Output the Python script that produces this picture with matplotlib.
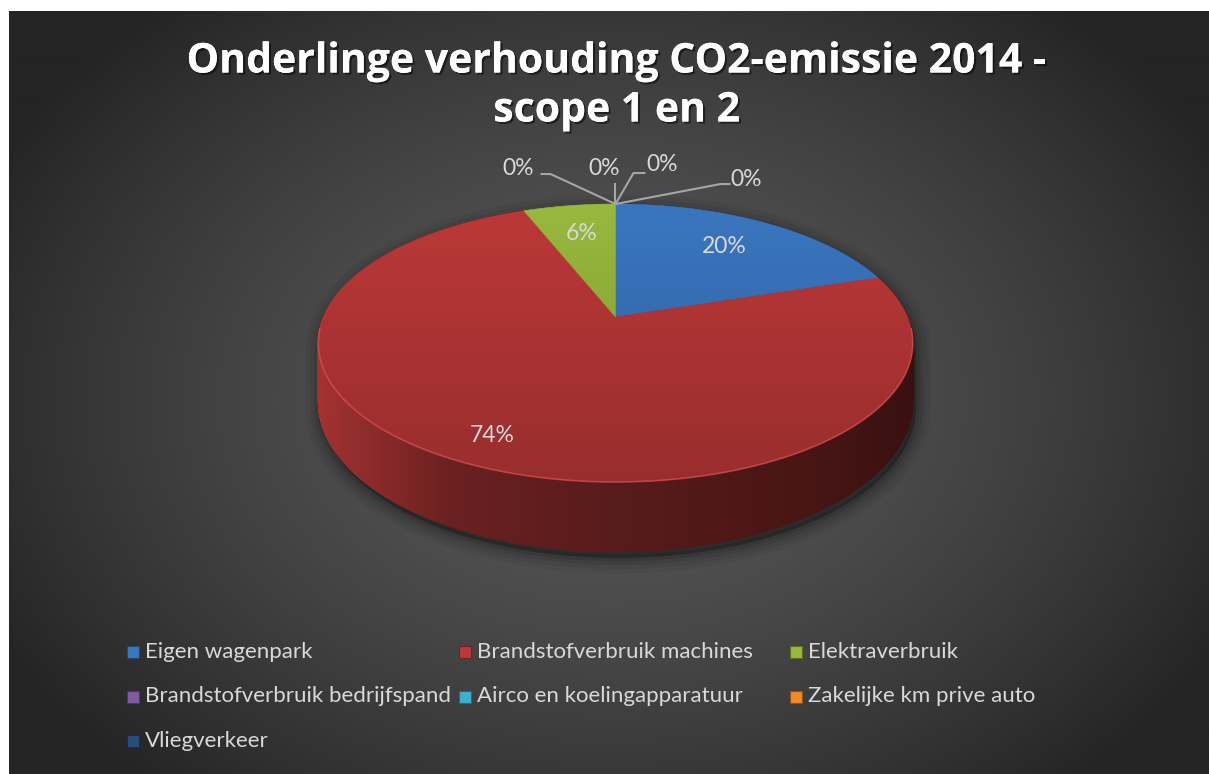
import numpy as np
import matplotlib
matplotlib.use("Agg")
import matplotlib.pyplot as plt
from matplotlib.patches import Polygon, Rectangle
import matplotlib.patheffects as pe

# data
categories = ["Eigen wagenpark", "Brandstofverbruik machines", "Elektraverbruik",
              "Brandstofverbruik bedrijfspand", "Airco en koelingapparatuur",
              "Zakelijke km prive auto", "Vliegverkeer"]
shares = [20, 74, 6, 0, 0, 0, 0]
colors = ["#3a76c0", "#bd3838", "#98b93e", "#7d5ba6", "#3bb1cf", "#f08a24", "#2a4d7f"]
title_lines = ["Onderlinge verhouding CO2-emissie 2014 -", "scope 1 en 2"]

W, H_IMG = 1209, 774
plt.rcParams['font.family'] = ['Lato', 'DejaVu Sans']
txt_col = "#d9d9d9"

fig = plt.figure(figsize=(W / 100, H_IMG / 100), dpi=100, facecolor="white")
ax = fig.add_axes([0, 0, 1, 1])
ax.set_xlim(0, W)
ax.set_ylim(H_IMG, 0)
ax.axis("off")

#%% background panel (radial gradient)
gx, gy = np.meshgrid(np.linspace(9, W, 600), np.linspace(11, H_IMG, 400))
d = np.sqrt(((gx - 610) / 700) ** 2 + ((gy - 400) / 520) ** 2)
d = np.clip(d, 0, 1)
val = (36 + 52 * (1 - d ** 1.5)) / 255.
bg = np.dstack([val, val, val])
ax.imshow(bg, extent=(9, W, H_IMG, 11), aspect="auto", zorder=0, interpolation="bilinear")

#%% 3D pie projection
CX, CY = 615.5, 317      # screen pos of pie centre
R, S = 292, 134.1        # horizontal radius, depth scale
P = 0.187                # perspective strength
DEPTH = 56.9             # side height


def proj(theta, r=1.0, bottom=False):
    t = np.radians(theta)
    u = r * np.sin(t)
    v = r * np.cos(t)
    w = 1 + P * v
    x = CX + R * u / w
    y = CY - S * v / w + (DEPTH / w if bottom else 0)
    return x, y


total = float(sum(shares))
bounds = np.concatenate([[0], np.cumsum(shares)]) / total * 360.

# shadow
sil = [proj(t) for t in np.linspace(-101, 101, 200)] + \
      [proj(t, bottom=True) for t in np.linspace(101, 259, 200)]
sil = np.array(sil) + np.array([3, 6])
for lw, a in [(22, 0.05), (16, 0.06), (10, 0.08), (5, 0.1)]:
    ax.add_patch(Polygon(sil, closed=True, facecolor="black", edgecolor="black",
                         lw=lw, alpha=a, zorder=1, joinstyle="round"))

# side strips (colour by screen x)
side_x = [318, 450, 615, 800, 913]
side_c = np.array([[0xa5, 0x32, 0x32], [0x6b, 0x20, 0x20], [0x58, 0x1b, 0x1b],
                   [0x4a, 0x15, 0x15], [0x3a, 0x10, 0x10]]) / 255.
strips = []
for i in range(len(shares)):
    a0, a1 = bounds[i], bounds[i + 1]
    if a1 - a0 <= 0:
        continue
    ts = np.arange(a0, a1, 0.5)
    ts = np.append(ts, a1)
    for t0, t1 in zip(ts[:-1], ts[1:]):
        pts = [proj(t0), proj(t1), proj(t1, bottom=True), proj(t0, bottom=True)]
        xm = np.mean([p[0] for p in pts])
        c = [np.interp(xm, side_x, side_c[:, k]) for k in range(3)]
        if i != 1:
            base = np.array(matplotlib.colors.to_rgb(colors[i]))
            c = base * 0.5
        strips.append((np.cos(np.radians((t0 + t1) / 2)), pts, c))
strips.sort(key=lambda s: -s[0])
for _, pts, c in strips:
    ax.add_patch(Polygon(pts, closed=True, facecolor=c, edgecolor=c, lw=0.6, zorder=2))

# top faces
for i in range(len(shares)):
    a0, a1 = bounds[i], bounds[i + 1]
    if a1 - a0 <= 0:
        continue
    ts = np.linspace(a0, a1, max(int((a1 - a0) * 2), 2))
    pts = [(CX, CY)] + [proj(t) for t in ts]
    ax.add_patch(Polygon(pts, closed=True, facecolor=colors[i], edgecolor=colors[i],
                         lw=0.4, zorder=3))

# shading over top face
ell = Polygon([proj(t) for t in np.linspace(0, 360, 400)], closed=True,
              facecolor="none", edgecolor="none", transform=ax.transData)
ax.add_patch(ell)
grad = np.linspace(0, 1, 256)[:, None]
shade = np.zeros((256, 2, 4))
shade[..., 3] = (grad * 0.2)
im = ax.imshow(shade, extent=(300, 930, 490, 200), aspect="auto", zorder=4)
im.set_clip_path(ell)

# rim highlight
rim = np.array([proj(t) for t in np.linspace(95, 265, 200)])
ax.plot(rim[:, 0], rim[:, 1], color="#d65050", lw=1.2, alpha=0.7, zorder=5)

#%% labels
lab_r = [0.7, 0.85, 0.7]
for i in range(len(shares)):
    if shares[i] == 0:
        continue
    mid = (bounds[i] + bounds[i + 1]) / 2
    lx, ly = proj(mid, r=lab_r[i])
    ax.text(lx, ly - 2, "%d%%" % round(shares[i] / total * 100), color=txt_col,
            fontsize=16.5, ha="center", va="center", zorder=6)

# zero slices: leader lines from slice anchor
zero_layout = [((-65, -30), (-75, -30), (-97, -36)),
               ((0, -21), (0, -21), (-11, -36)),
               ((18, -31), (30, -31), (47, -40)),
               ((105, -20), (115, -20), (131, -25))]
k = 0
for i in range(len(shares)):
    if shares[i] != 0:
        continue
    ax_, ay_ = proj((bounds[i] + bounds[i + 1]) / 2)
    el, en, lb = zero_layout[k]
    ax.plot([ax_, ax_ + el[0], ax_ + en[0]], [ay_, ay_ + el[1], ay_ + en[1]],
            color="#a6a6a6", lw=1.5, zorder=6, solid_capstyle="butt")
    ax.text(ax_ + lb[0], ay_ + lb[1], "0%", color=txt_col, fontsize=16.5,
            ha="center", va="center", zorder=6)
    k += 1

#%% title
for ty, line in zip([62, 111], title_lines):
    ax.text(617, ty, line, color="white", fontsize=29.5, fontweight="bold",
            family=["Open Sans", "DejaVu Sans"], ha="center", va="center", zorder=7,
            path_effects=[pe.withSimplePatchShadow(offset=(1.5, -1.5), shadow_rgbFace="black", alpha=0.5),
                          pe.Normal()])

#%% legend
col_x = [133, 465, 796]
row_y = [651.5, 696.5, 741]
for i, name in enumerate(categories):
    x = col_x[i % 3]
    y = row_y[i // 3]
    c = colors[i]
    ax.add_patch(Rectangle((x - 6, y - 6), 12, 12, facecolor=c,
                           edgecolor=np.array(matplotlib.colors.to_rgb(c)) * 0.6, lw=0.8, zorder=6))
    ax.text(x + 12, y, name, color=txt_col, fontsize=16, ha="left", va="center", zorder=6)

fig.savefig("out.png", dpi=100, facecolor="white")
